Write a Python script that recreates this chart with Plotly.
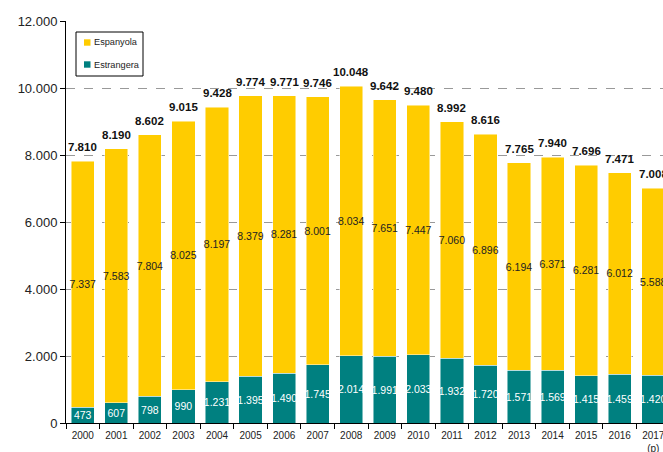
import plotly.graph_objects as go

years = ["2000", "2001", "2002", "2003", "2004", "2005", "2006", "2007", "2008",
         "2009", "2010", "2011", "2012", "2013", "2014", "2015", "2016", "2017<br>(p)"]
espanyola = [7337, 7583, 7804, 8025, 8197, 8379, 8281, 8001, 8034,
             7651, 7447, 7060, 6896, 6194, 6371, 6281, 6012, 5588]
estrangera = [473, 607, 798, 990, 1231, 1395, 1490, 1745, 2014,
              1991, 2033, 1932, 1720, 1571, 1569, 1415, 1459, 1420]
totals = [7810, 8190, 8602, 9015, 9428, 9774, 9771, 9746, 10048,
          9642, 9480, 8992, 8616, 7765, 7940, 7696, 7471, 7008]
y_ticks = [0, 2000, 4000, 6000, 8000, 10000, 12000]
series_names = ["Espanyola", "Estrangera"]

FONT = "Liberation Sans, Arial, sans-serif"
YELLOW = "#FFCC00"
TEAL = "#008080"
series_colors = [YELLOW, TEAL]

W, H = 663, 452
ML, MR, MT, MB = 66, 0, 21, 29
PW, PH = W - ML - MR, H - MT - MB


def px_x(x):
    return (x - ML) / PW


def px_y(y):
    return 1 - (y - MT) / PH


fig = go.Figure()
fig.add_trace(go.Bar(
    x=years, y=estrangera, name="Estrangera", showlegend=False,
    marker=dict(color=TEAL, line=dict(color="rgba(255,255,255,0.6)", width=0.8)),
    texttemplate="%{y:,.0f}", textposition="inside", insidetextanchor="middle",
    textangle=0, constraintext="none",
    textfont=dict(family=FONT, size=10.5, color="white"),
))
fig.add_trace(go.Bar(
    x=years, y=espanyola, name="Espanyola", showlegend=False,
    marker=dict(color=YELLOW, line=dict(color="rgba(255,255,255,0.6)", width=0.8)),
    texttemplate="%{y:,.0f}", textposition="inside", insidetextanchor="middle",
    textangle=0, constraintext="none",
    textfont=dict(family=FONT, size=10.5, color="#222222"),
))

annotations = []
for i, tot in enumerate(totals):
    annotations.append(dict(
        x=i, y=tot, xref="x", yref="y", text="<b>" + f"{tot:,}".replace(",", ".") + "</b>",
        showarrow=False, yanchor="bottom", xanchor="center", yshift=6,
        font=dict(family=FONT, size=11.5, color="#111111"),
    ))

# manual legend (box, swatches, labels)
shapes = [dict(
    type="rect", xref="paper", yref="paper",
    x0=px_x(76), x1=px_x(143), y0=px_y(76), y1=px_y(32),
    line=dict(color="black", width=1), fillcolor="white", layer="above",
)]
legend_rows = [42.5, 64.5]
for name, col, row in zip(series_names, series_colors, legend_rows):
    shapes.append(dict(
        type="rect", xref="paper", yref="paper",
        x0=px_x(84), x1=px_x(90.5), y0=px_y(row + 3.2), y1=px_y(row - 3.2),
        line=dict(width=0), fillcolor=col, layer="above",
    ))
    annotations.append(dict(
        x=px_x(91.5), y=px_y(row), xref="paper", yref="paper", text=name,
        showarrow=False, xanchor="left", yanchor="middle",
        font=dict(family=FONT, size=9.2, color="#222222"),
    ))

fig.update_layout(
    width=W, height=H,
    margin=dict(l=ML, r=MR, t=MT, b=MB),
    paper_bgcolor="white", plot_bgcolor="white",
    barmode="stack", bargap=0.31,
    separators=",.",
    font=dict(family=FONT, color="#222222"),
    showlegend=False,
    shapes=shapes,
    annotations=annotations,
    xaxis=dict(
        type="category", range=[-0.5, 17.29], autorange=False,
        showline=True, linecolor="black", linewidth=1,
        ticks="outside", tickson="boundaries", ticklen=5, tickcolor="black",
        tickangle=0, automargin=False, ticklabelstandoff=3,
        tickfont=dict(family=FONT, size=10, color="#222222"),
        showgrid=False,
    ),
    yaxis=dict(
        range=[0, 12000], autorange=False, tickvals=y_ticks, tickformat=",.0f",
        showline=True, linecolor="black", linewidth=1,
        ticks="outside", ticklen=5, tickcolor="black", automargin=False,
        tickfont=dict(family=FONT, size=13, color="#222222"),
        showgrid=True, gridcolor="#999999", griddash="dash", gridwidth=1,
        zeroline=False,
    ),
)

fig.write_html("out.html")
